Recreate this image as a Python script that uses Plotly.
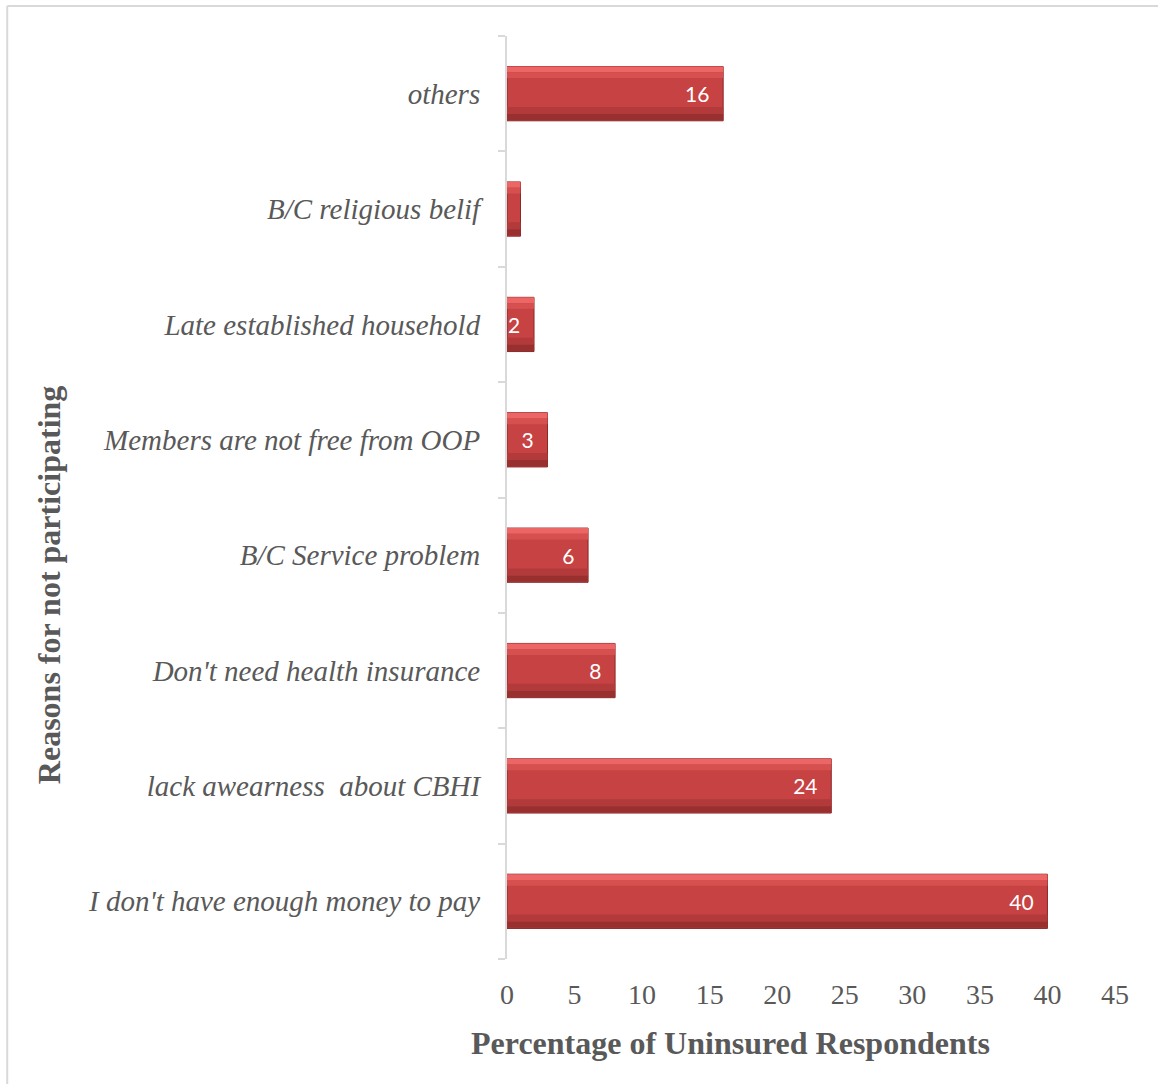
import plotly.graph_objects as go

categories = [
    "I don't have enough money to pay",
    "lack awearness  about CBHI",
    "Don't need health insurance",
    "B/C Service problem",
    "Members are not free from OOP",
    "Late established household",
    "B/C religious belif",
    "others",
]
values = [40, 24, 8, 6, 3, 2, 1, 16]
value_labels = ["40", "24", "8", "6", "3", "2", "", "16"]
x_ticks = [0, 5, 10, 15, 20, 25, 30, 35, 40, 45]

serif = "Liberation Serif, Times New Roman, serif"
gray = "#595959"
bar_w = 0.47

fig = go.Figure()
# main bar
fig.add_trace(go.Bar(
    y=categories, x=values, orientation="h",
    width=bar_w, offset=-bar_w / 2,
    marker=dict(color="#C74242", line=dict(color="#8A2828", width=1)),
    text=value_labels, texttemplate="%{text}\u00a0\u00a0",
    textposition="inside", insidetextanchor="end",
    textfont=dict(color="white", size=21, family="Lato, Open Sans, sans-serif"),
    constraintext="none", cliponaxis=False, hoverinfo="skip",
))
# top highlight bevel
fig.add_trace(go.Bar(
    y=categories, x=values, orientation="h",
    width=0.05, offset=bar_w / 2 - 0.05,
    marker=dict(color="#EC6666", line=dict(width=0)),
    hoverinfo="skip",
))
fig.add_trace(go.Bar(
    y=categories, x=values, orientation="h",
    width=0.05, offset=bar_w / 2 - 0.10,
    marker=dict(color="#D65050", line=dict(width=0)),
    hoverinfo="skip",
))
# bottom dark bevel
fig.add_trace(go.Bar(
    y=categories, x=values, orientation="h",
    width=0.06, offset=-bar_w / 2 + 0.06,
    marker=dict(color="#B23A3A", line=dict(width=0)),
    hoverinfo="skip",
))
fig.add_trace(go.Bar(
    y=categories, x=values, orientation="h",
    width=0.055, offset=-bar_w / 2 + 0.005,
    marker=dict(color="#993030", line=dict(width=0)),
    hoverinfo="skip",
))

fig.update_layout(
    width=1158, height=1084,
    margin=dict(l=507, r=43, t=36, b=125),
    barmode="overlay",
    showlegend=False,
    paper_bgcolor="white", plot_bgcolor="white",
    xaxis=dict(
        range=[0, 45], tickvals=x_ticks, showgrid=False, zeroline=False,
        showline=False, ticks="", ticklabelstandoff=16,
        tickfont=dict(family=serif, size=28, color=gray),
    ),
    yaxis=dict(
        type="category", categoryorder="array", categoryarray=categories,
        range=[-0.5, 7.5], showgrid=False, zeroline=False,
        showline=True, linecolor="#D9D9D9", linewidth=2,
        ticks="outside", tickson="boundaries", ticklen=7, tickcolor="#D9D9D9", tickwidth=2,
        ticklabelstandoff=19,
        tickfont=dict(family=serif, size=29, color=gray, style="italic"),
    ),
    annotations=[
        dict(text="<b>Percentage of Uninsured Respondents</b>", xref="paper", yref="paper",
             x=0.368, y=0, xanchor="center", yanchor="middle", yshift=-84, showarrow=False,
             font=dict(family=serif, size=32, color=gray)),
        dict(text="<b>Reasons for not participating</b>", xref="paper", yref="paper",
             x=0, y=0.405, xanchor="center", yanchor="middle", xshift=-458, textangle=-90,
             showarrow=False, font=dict(family=serif, size=32, color=gray)),
    ],
    shapes=[
        dict(type="line", xref="paper", yref="paper", x0=-0.822, x1=1.1, y0=1.0325, y1=1.0325,
             line=dict(color="#D9D9D9", width=2)),
        dict(type="line", xref="paper", yref="paper", x0=-0.822, x1=-0.822, y0=1.0325, y1=-0.2,
             line=dict(color="#D9D9D9", width=2)),
    ],
)

fig.write_html("out.html")
